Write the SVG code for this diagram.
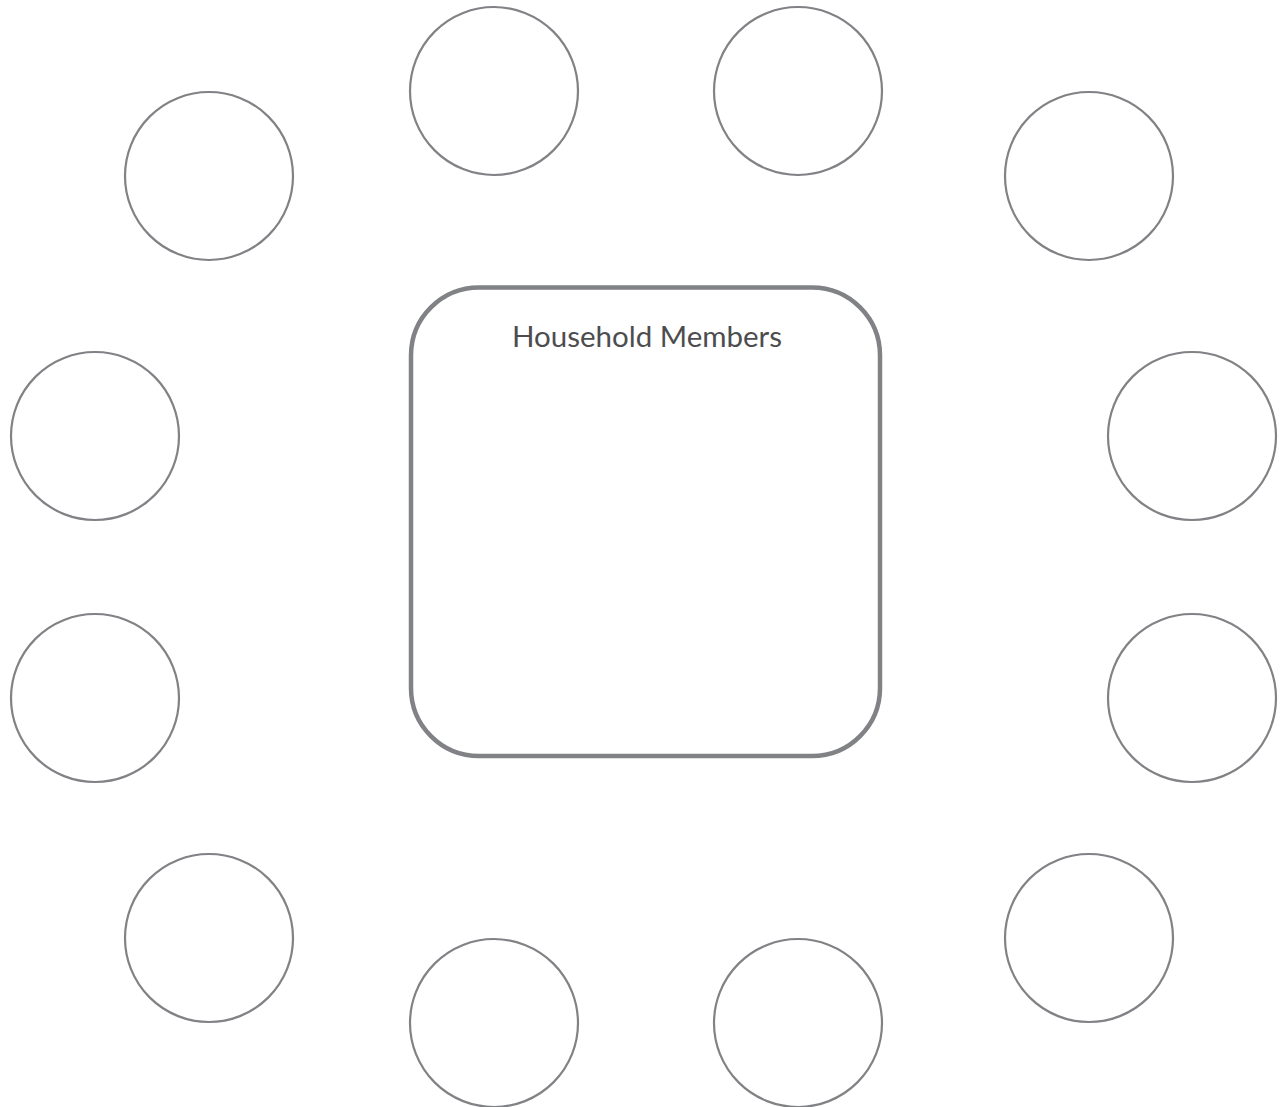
<svg xmlns="http://www.w3.org/2000/svg" width="1281" height="1107" viewBox="0 0 1281 1107">
<style>
.c{fill:#fff;stroke:#808285;stroke-width:2.2}
.box{fill:#fff;stroke:#808285;stroke-width:4.5}
.t{font-family:"Lato","Open Sans",sans-serif;font-size:29.5px;fill:#4d4d4f;text-anchor:middle}
</style>
<rect width="1281" height="1107" fill="#fff"/>
<g id="connectors"></g>
<g id="center"><rect class="box" x="411" y="287.5" width="469" height="468.5" rx="68" ry="68"/><text class="t" x="647" y="347">Household Members</text></g>
<g id="n1"><circle class="c" cx="494" cy="91" r="84"/></g>
<g id="n2"><circle class="c" cx="798" cy="91" r="84"/></g>
<g id="n3"><circle class="c" cx="209" cy="176" r="84"/></g>
<g id="n4"><circle class="c" cx="1089" cy="176" r="84"/></g>
<g id="n5"><circle class="c" cx="95" cy="436" r="84"/></g>
<g id="n6"><circle class="c" cx="1192" cy="436" r="84"/></g>
<g id="n7"><circle class="c" cx="95" cy="698" r="84"/></g>
<g id="n8"><circle class="c" cx="1192" cy="698" r="84"/></g>
<g id="n9"><circle class="c" cx="209" cy="938" r="84"/></g>
<g id="n10"><circle class="c" cx="1089" cy="938" r="84"/></g>
<g id="n11"><circle class="c" cx="494" cy="1023" r="84"/></g>
<g id="n12"><circle class="c" cx="798" cy="1023" r="84"/></g>
</svg>
